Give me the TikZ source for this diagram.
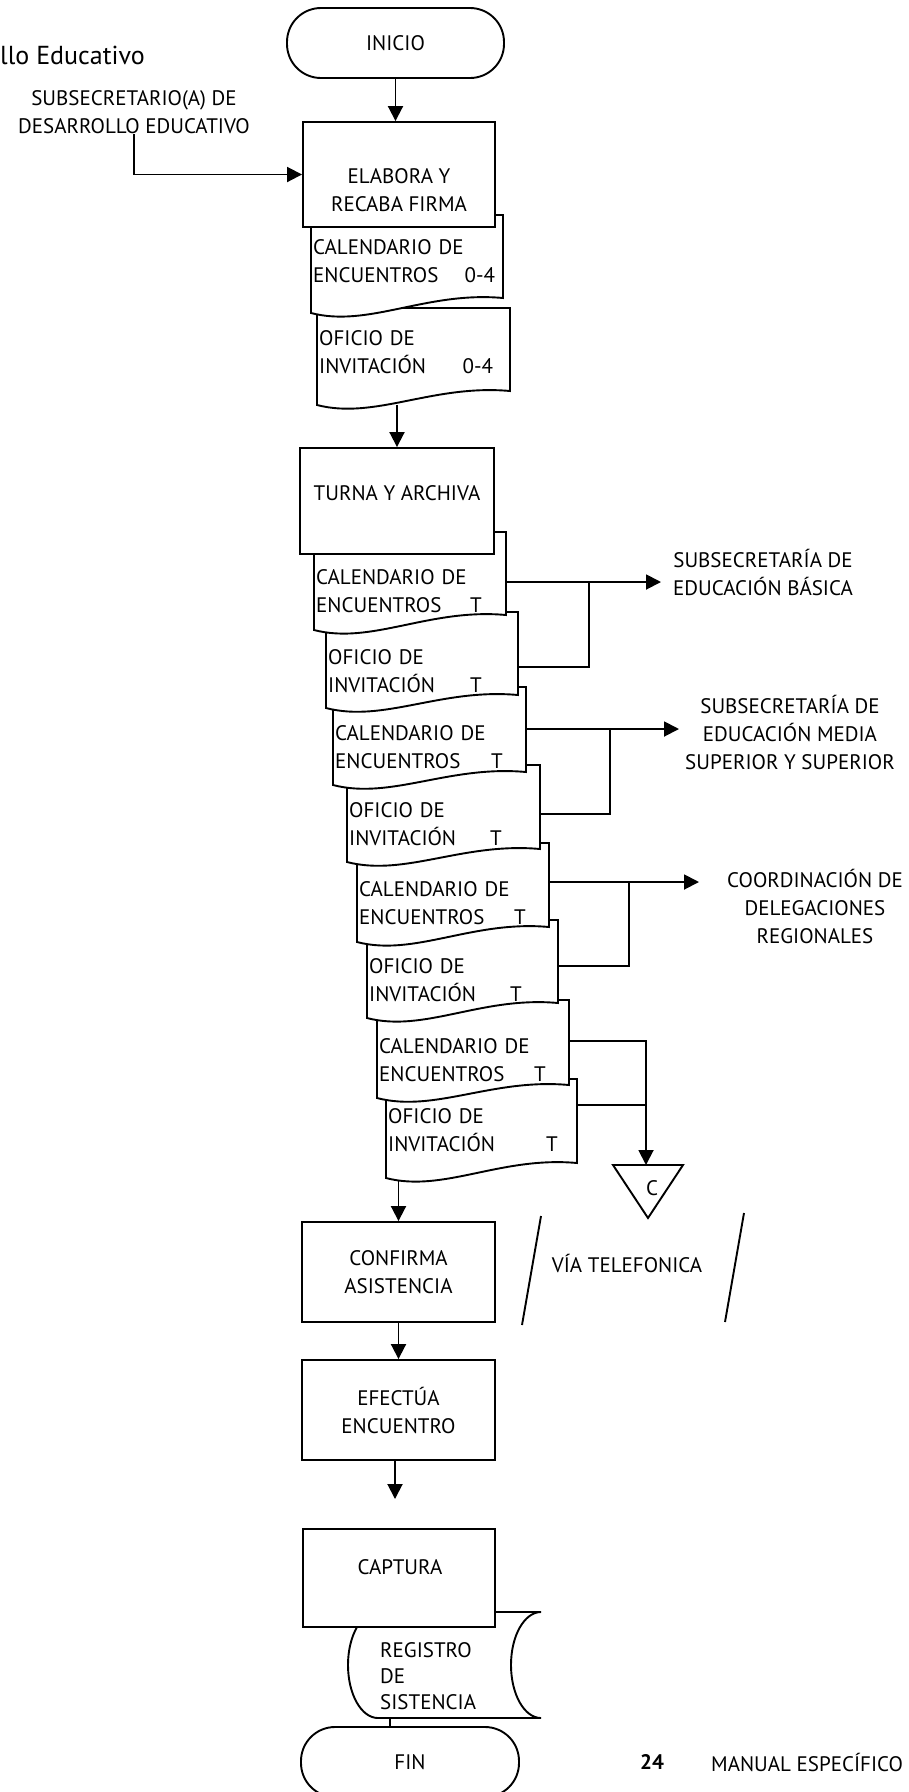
\documentclass[tikz,border=0pt]{standalone}
\usepackage{fontspec}
\setmainfont{PT Sans}
\usetikzlibrary{arrows.meta,calc}
\pgfdeclarelayer{background}
\pgfsetlayers{background,main}

% document symbol: name, left x, right x, top y, bottom-left y, bottom-right y
\newcommand\flowdoc[6]{%
  \filldraw[docline] (#2,#4) -- (#3,#4) -- (#3,#6)
    .. controls ({#2+0.6*(#3-#2)},{#6-7}) and ({#2+0.3*(#3-#2)},{#5+15}) .. (#2,#5) -- cycle;
  \node[frame, minimum width={#3-#2}, minimum height={#5-#4}, anchor=north west] (#1) at (#2,#4) {};
}

\begin{document}
\begin{tikzpicture}[x=1pt, y=-1pt,
  every node/.style={font=\fontsize{21}{28}\selectfont, inner sep=0pt},
  line/.style={line width=1.9pt},
  arr/.style={line width=1.9pt, -{Triangle[length=15pt,width=15pt]}},
  box/.style={draw, line width=1.9pt, fill=white},
  term/.style={box, rounded corners=34pt, minimum width=217pt, minimum height=70pt},
  frame/.style={inner sep=0pt},
  docline/.style={line width=1.9pt, fill=white},
  doctext/.style={anchor=west, align=left},
  lbl/.style={align=center}]

\useasboundingbox (0,0) rectangle (909,1792);

% heading fragment
\node[anchor=west, font=\fontsize{26}{30}\selectfont] (head) at (0,55) {llo Educativo};

% start and first step
\node[term] (inicio) at (395.5,43) {INICIO};
\node[lbl] (subsec) at (134,112.5) {SUBSECRETARIO(A) DE\\DESARROLLO EDUCATIVO};

\flowdoc{of04}{317}{510}{308}{405}{391}
\node[doctext, text width=174pt] (of04t) at (319,352.5) {OFICIO DE\\INVITACIÓN\hfill 0-4};
\flowdoc{cal04}{311}{503}{215}{313}{298}
\node[doctext, text width=182pt] (cal04t) at (313,261) {CALENDARIO DE\\ENCUENTROS\hfill 0-4};
\node[box, minimum width=192pt, minimum height=105pt] (elabora) at (399,174.5) {};
\node[align=center] (elaborat) at (399,190) {ELABORA Y\\RECABA FIRMA};

% documents sent out (back to front)
\flowdoc{d8}{386}{577}{1079}{1178}{1163}
\node[doctext, text width=169.5pt] (d8t) at (388,1130.5) {OFICIO DE\\INVITACIÓN\hfill T};
\flowdoc{d7}{377}{569}{1000}{1098}{1085}
\node[doctext, text width=166.5pt] (d7t) at (379,1060.5) {CALENDARIO DE\\ENCUENTROS\hfill T};
\flowdoc{d6}{367}{558}{920}{1018}{1003}
\node[doctext, text width=152.5pt] (d6t) at (369,980) {OFICIO DE\\INVITACIÓN\hfill T};
\flowdoc{d5}{357}{549}{843}{942}{927}
\node[doctext, text width=166.5pt] (d5t) at (359,903) {CALENDARIO DE\\ENCUENTROS\hfill T};
\flowdoc{d4}{347}{540}{765}{862}{849}
\node[doctext, text width=152.5pt] (d4t) at (349,824) {OFICIO DE\\INVITACIÓN\hfill T};
\flowdoc{d3}{333}{526}{687}{785}{772}
\node[doctext, text width=167.5pt] (d3t) at (335,747) {CALENDARIO DE\\ENCUENTROS\hfill T};
\flowdoc{d2}{326}{518}{612}{708}{695}
\node[doctext, text width=153.5pt] (d2t) at (328,671.5) {OFICIO DE\\INVITACIÓN\hfill T};
\flowdoc{d1}{314}{506}{532}{630}{615}
\node[doctext, text width=165.5pt] (d1t) at (316,591) {CALENDARIO DE\\ENCUENTROS\hfill T};

\node[box, minimum width=194pt, minimum height=106pt] (turna) at (397,501) {};
\node (turnat) at (397,493) {TURNA Y ARCHIVA};

% recipients
\node[lbl] (lab1) at (763,572.5) {SUBSECRETARÍA DE\\EDUCACIÓN BÁSICA};
\node[lbl] (lab2) at (790,732) {SUBSECRETARÍA DE\\EDUCACIÓN MEDIA\\SUPERIOR Y SUPERIOR};
\node[lbl] (lab3) at (815,906) {COORDINACIÓN DE\\DELEGACIONES\\REGIONALES};

% off-page connector
\draw[line] (613,1165) -- (683,1165) -- (648,1218) -- cycle;
\node (offpage) at (652,1188) {C};

% remaining steps
\node[box, minimum width=193pt, minimum height=100pt, align=center] (confirma) at (398.5,1272) {CONFIRMA\\ASISTENCIA};
\draw[line] (541,1216) -- (522,1325);
\draw[line] (744,1213) -- (725,1322);
\node (via) at (627,1263) {VÍA TELEFONICA};
\node[box, minimum width=193pt, minimum height=100pt, align=center] (efectua) at (398.5,1410) {EFECTÚA\\ENCUENTRO};

% stored data
\filldraw[docline] (378,1612) -- (541,1612)
  .. controls (524.4,1612) and (511,1635.7) .. (511,1665)
  .. controls (511,1694.3) and (524.4,1718) .. (541,1718)
  -- (378,1718)
  .. controls (361.4,1718) and (348,1694.3) .. (348,1665)
  .. controls (348,1635.7) and (361.4,1612) .. (378,1612) -- cycle;
\node[doctext, font=\fontsize{21}{26}\selectfont] (regt) at (380,1676) {REGISTRO\\DE\\SISTENCIA};
\node[box, minimum width=192pt, minimum height=98pt] (captura) at (399,1578) {};
\node (capturat) at (400,1567) {CAPTURA};

\node[term, minimum width=218pt] (fin) at (410,1762) {FIN};

% footer
\node[font=\fontsize{21}{28}\selectfont\bfseries] (pagenum) at (652,1762) {24};
\node[anchor=west] (manual) at (711,1762) {MANUAL ESPECÍFICO};

% junctions and free ends
\coordinate (t1) at (661,582); \coordinate (j1) at (589,582); \coordinate (k1) at (589,667);
\coordinate (t2) at (679,729); \coordinate (j2) at (610,729); \coordinate (k2) at (610,814);
\coordinate (t3) at (699,882); \coordinate (j3) at (629,882); \coordinate (k3) at (629,966);
\coordinate (j4) at (646,1041); \coordinate (k4) at (646,1105); \coordinate (tri) at (646,1165);
\coordinate (capin) at (395,1499);
\coordinate (regout) at (390,1718);

% connectors run underneath the white-filled symbols
\begin{pgfonlayer}{background}
  \fill[white] (0,0) rectangle (909,1792);
  \draw[arr] (inicio.south) -- (inicio.south |- elabora.north);
  \draw[arr] (subsec.south) |- (elabora.west);
  \draw[arr] (of04.south -| turna.north) -- (turna.north);
  \draw[arr] (d1.east |- t1) -- (t1);
  \draw[line] (d2.east |- k1) -- (k1) -- (j1);
  \draw[arr] (d3.east |- t2) -- (t2);
  \draw[line] (d4.east |- k2) -- (k2) -- (j2);
  \draw[arr] (d5.east |- t3) -- (t3);
  \draw[line] (d6.east |- k3) -- (k3) -- (j3);
  \draw[arr] (d7.east |- j4) -- (j4) -- (tri);
  \draw[line] (d8.east |- k4) -- (k4);
  \draw[arr] (d8.south -| confirma.north) -- (confirma.north);
  \draw[arr] (confirma) -- (efectua);
  \draw[arr] (efectua.south -| capin) -- (capin);
  \draw[line] (regout) -- (regout |- fin.north);
\end{pgfonlayer}
\end{tikzpicture}
\end{document}
